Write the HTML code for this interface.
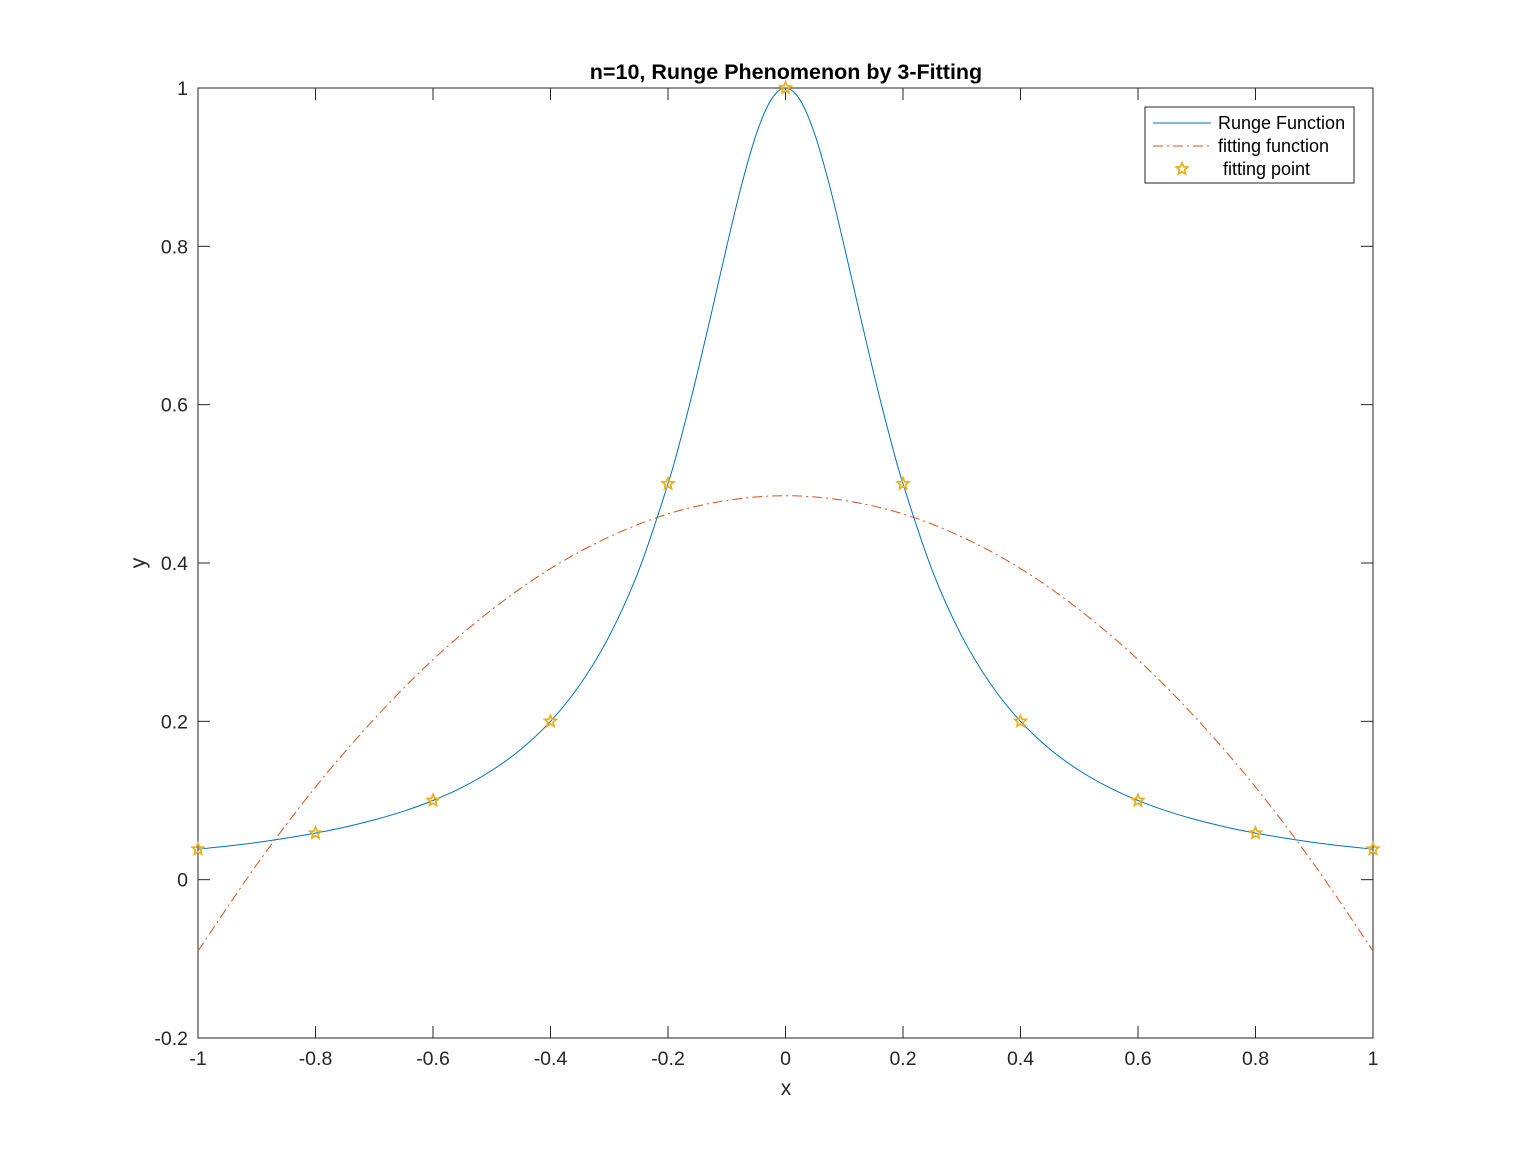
<!DOCTYPE html>
<html><head><meta charset="utf-8"><style>
body{margin:0;background:#fff;}
svg{display:block;font-family:"Liberation Sans",sans-serif;}
</style></head><body>
<svg id="chart" width="1518" height="1166"></svg>
<script>
const xTicks=[-1,-0.8,-0.6,-0.4,-0.2,0,0.2,0.4,0.6,0.8,1];
const yTicks=[-0.2,0,0.2,0.4,0.6,0.8,1];
const rungeX=[-1,-0.95,-0.9,-0.85,-0.8,-0.75,-0.7,-0.65,-0.6,-0.55,-0.5,-0.45,-0.4,-0.35,-0.3,-0.25,-0.2,-0.175,-0.15,-0.125,-0.1,-0.075,-0.05,-0.025,0,0.025,0.05,0.075,0.1,0.125,0.15,0.175,0.2,0.25,0.3,0.35,0.4,0.45,0.5,0.55,0.6,0.65,0.7,0.75,0.8,0.85,0.9,0.95,1];
const rungeY=[0.0385,0.0424,0.047,0.0525,0.0588,0.0664,0.0755,0.0865,0.1,0.1168,0.1379,0.1649,0.2,0.2462,0.3077,0.3902,0.5,0.5664,0.64,0.7191,0.8,0.8767,0.9412,0.9846,1,0.9846,0.9412,0.8767,0.8,0.7191,0.64,0.5664,0.5,0.3902,0.3077,0.2462,0.2,0.1649,0.1379,0.1168,0.1,0.0865,0.0755,0.0664,0.0588,0.0525,0.047,0.0424,0.0385];
const fitX=[-1,-0.9,-0.8,-0.7,-0.6,-0.5,-0.4,-0.3,-0.2,-0.1,0,0.1,0.2,0.3,0.4,0.5,0.6,0.7,0.8,0.9,1];
const fitY=[-0.09,0.019,0.117,0.203,0.278,0.341,0.393,0.433,0.462,0.479,0.485,0.479,0.462,0.433,0.393,0.341,0.278,0.203,0.117,0.019,-0.09];
const ptX=[-1,-0.8,-0.6,-0.4,-0.2,0,0.2,0.4,0.6,0.8,1];
const ptY=[0.0385,0.0588,0.1,0.2,0.5,1,0.5,0.2,0.1,0.0588,0.0385];

const L=198,R=1373,T=88,B=1038;
const sx=v=>L+(v+1)/2*(R-L);
const sy=v=>B-(v+0.2)/1.2*(B-T);
const svg=document.getElementById('chart');
const NS='http://www.w3.org/2000/svg';
function mk(tag,attrs,parent){const e=document.createElementNS(NS,tag);for(const k in attrs)e.setAttribute(k,attrs[k]);(parent||svg).appendChild(e);return e;}

function smoothPath(xs,ys){
  const p=xs.map((x,i)=>[sx(x),sy(ys[i])]);
  let d='M'+p[0][0]+','+p[0][1];
  for(let i=0;i<p.length-1;i++){
    const p0=p[Math.max(0,i-1)],p1=p[i],p2=p[i+1],p3=p[Math.min(p.length-1,i+2)];
    const c1=[p1[0]+(p2[0]-p0[0])/6,p1[1]+(p2[1]-p0[1])/6];
    const c2=[p2[0]-(p3[0]-p1[0])/6,p2[1]-(p3[1]-p1[1])/6];
    d+=' C'+c1+' '+c2+' '+p2;
  }
  return d;
}

const axes=mk('rect',{x:L,y:T,width:R-L,height:B-T,fill:'#fff',stroke:'#262626','stroke-width':1});



xTicks.forEach(v=>{
  const x=sx(v);
  mk('line',{x1:x,y1:B,x2:x,y2:B-12,stroke:'#262626'});
  mk('line',{x1:x,y1:T,x2:x,y2:T+12,stroke:'#262626'});
  const t=mk('text',{x:x,y:B+27,'text-anchor':'middle','font-size':19.5,fill:'#262626'});
  t.textContent=String(v);
  
  
});
yTicks.forEach(v=>{
  const y=sy(v);
  mk('line',{x1:L,y1:y,x2:L+12,y2:y,stroke:'#262626'});
  mk('line',{x1:R,y1:y,x2:R-12,y2:y,stroke:'#262626'});
  const t=mk('text',{x:L-10,y:y+7,'text-anchor':'end','font-size':19.5,fill:'#262626'});
  t.textContent=String(v);
  
  
});

const fit=mk('path',{d:smoothPath(fitX,fitY),fill:'none',stroke:'#D95319','stroke-width':1,'stroke-dasharray':'10,4,2,4'});


const run=mk('path',{d:smoothPath(rungeX,rungeY),fill:'none',stroke:'#0072BD','stroke-width':1});



function star(cx,cy,r){
  let pts=[];
  for(let i=0;i<10;i++){const a=-Math.PI/2+i*Math.PI/5;const rr=i%2?r*0.45:r;pts.push((cx+rr*Math.cos(a)).toFixed(1)+','+(cy+rr*Math.sin(a)).toFixed(1));}
  return pts.join(' ');
}
ptX.forEach((x,i)=>{
  const s=mk('polygon',{points:star(sx(x),sy(ptY[i]),6),fill:'none',stroke:'#EDB120','stroke-width':1.8});
  
  
});

const title=mk('text',{x:786,y:79,'text-anchor':'middle','font-size':21.5,'font-weight':'bold',fill:'#000'});
title.textContent='n=10, Runge Phenomenon by 3-Fitting';


const xl=mk('text',{x:786,y:1095,'text-anchor':'middle','font-size':21,fill:'#262626'});
xl.textContent='x';


const yl=mk('text',{x:0,y:0,'text-anchor':'middle','font-size':21,fill:'#262626',transform:'translate(145,563) rotate(-90)'});
yl.textContent='y';



const lg=mk('g',{});


mk('rect',{x:1145,y:107,width:209,height:76,fill:'#fff',stroke:'#262626','stroke-width':1},lg);
const entries=[['Runge Function','#0072BD','none'],['fitting function','#D95319','10,4,2,4'],['fitting point','#EDB120','star']];
entries.forEach((e,i)=>{
  const y=123+i*23;
  const g=mk('g',{},lg);
  
  
  if(e[2]==='star') mk('polygon',{points:star(1182,y,6),fill:'none',stroke:e[1],'stroke-width':1.8},g);
  else mk('line',{x1:1153,y1:y,x2:1211,y2:y,stroke:e[1],'stroke-dasharray':e[2]},g);
  const t=mk('text',{x:i===2?1223:1218,y:y+6,'font-size':18,fill:'#000'},g);
  t.textContent=e[0];
});
</script>
</body></html>
